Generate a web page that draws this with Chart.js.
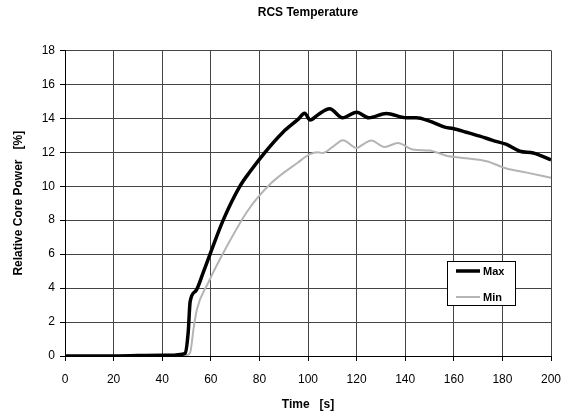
<!DOCTYPE html>
<html>
<head>
<meta charset="utf-8">
<script src="https://cdn.jsdelivr.net/npm/chart.js@4/dist/chart.umd.min.js"></script>
<style>
  html, body { margin: 0; padding: 0; background: #fff; }
  #wrap { width: 565px; height: 416px; }
</style>
</head>
<body>
<div id="wrap"><canvas id="rcsChart" width="565" height="416"></canvas></div>
<script>
// values: time [s] and relative core power [%]
const maxTime  = [0, 20, 40, 45, 48, 49.4, 50.7, 51.5, 53.9, 56.9, 59.7, 65.1, 72, 76.1, 82.3, 89.8, 96, 98.6, 100.9, 104, 108.9, 114.2, 120, 125, 132.2, 140.5, 144.6, 150, 156.3, 159.7, 165.2, 170.7, 176, 181.7, 187.2, 192.7, 200];
const maxPower = [0, 0, 0.05, 0.05, 0.1, 0.15, 1.4, 3.2, 3.85, 4.93, 6.0, 8.0, 10.0, 10.85, 12.0, 13.2, 13.95, 14.3, 13.9, 14.2, 14.56, 14.03, 14.36, 14.03, 14.28, 14.03, 14.03, 13.83, 13.48, 13.4, 13.18, 12.95, 12.7, 12.46, 12.06, 11.96, 11.55];

const minTime  = [0, 20, 40, 45, 50, 51.5, 52.9, 54.3, 59, 66.5, 75.4, 85, 95.9, 100.6, 104, 106, 110, 114.4, 119.9, 123, 126, 131.5, 137, 143.2, 150, 157, 165, 173.5, 181.7, 190, 200];
const minPower = [0, 0, 0.05, 0.05, 0.05, 0.2, 1.6, 2.76, 4.33, 6.43, 8.6, 10.2, 11.4, 11.87, 12.0, 11.96, 12.3, 12.71, 12.25, 12.5, 12.69, 12.31, 12.55, 12.16, 12.1, 11.8, 11.65, 11.47, 11.04, 10.8, 10.5];

const xTicks = [0, 20, 40, 60, 80, 100, 120, 140, 160, 180, 200];
const yTicks = [0, 2, 4, 6, 8, 10, 12, 14, 16, 18];

const toPoints = (xs, ys) => xs.map((x, i) => ({x: x, y: ys[i]}));

const fontFam = "'Liberation Sans', Arial, sans-serif";

// small boxed legend inside the plot, like the original
const boxLegend = {
  id: 'boxLegend',
  afterDraw(chart) {
    const ctx = chart.ctx;
    const x0 = 447, y0 = 261, w = 68, h = 44;
    ctx.save();
    ctx.fillStyle = '#fff';
    ctx.fillRect(x0, y0, w, h);
    ctx.strokeStyle = '#000';
    ctx.lineWidth = 1;
    ctx.strokeRect(x0 + 0.5, y0 + 0.5, w, h);
    ctx.font = "bold 11px " + fontFam;
    ctx.textBaseline = 'middle';
    chart.data.datasets.forEach((ds, i) => {
      const yy = y0 + 10 + i * 26;
      ctx.strokeStyle = ds.borderColor;
      ctx.lineWidth = ds.borderWidth;
      ctx.beginPath();
      ctx.moveTo(x0 + 9, yy);
      ctx.lineTo(x0 + 33, yy);
      ctx.stroke();
      ctx.fillStyle = '#000';
      ctx.fillText(ds.label, x0 + 36, yy + 1);
    });
    ctx.restore();
  }
};

new Chart(document.getElementById('rcsChart'), {
  type: 'scatter',
  data: {
    datasets: [
      {
        label: 'Max',
        data: toPoints(maxTime, maxPower),
        showLine: true,
        borderColor: '#000',
        borderWidth: 3.5,
        pointRadius: 0,
        cubicInterpolationMode: 'monotone'
      },
      {
        label: 'Min',
        data: toPoints(minTime, minPower),
        showLine: true,
        borderColor: '#b4b4b4',
        borderWidth: 2,
        pointRadius: 0,
        cubicInterpolationMode: 'monotone'
      }
    ]
  },
  options: {
    responsive: false,
    animation: false,
    layout: { padding: { top: 0, right: 14, left: 0, bottom: 0 } },
    plugins: {
      legend: { display: false },
      tooltip: { enabled: false },
      title: {
        display: true,
        fullSize: false,
        text: 'RCS Temperature',
        color: '#000',
        font: { family: fontFam, size: 12, weight: 'bold' },
        padding: { top: 5, bottom: 31 }
      }
    },
    scales: {
      x: {
        type: 'linear',
        min: 0,
        max: 200,
        afterBuildTicks: (s) => { s.ticks = xTicks.map(v => ({value: v})); },
        afterFit: (s) => { s.height = 60; s.paddingRight = 0; s.paddingLeft = 0; },
        ticks: { color: '#000', font: { family: fontFam, size: 12 }, padding: 11, maxRotation: 0 },
        grid: { color: '#444', lineWidth: 1, tickLength: 5, tickColor: '#000' },
        border: { color: '#000', width: 1 },
        title: {
          display: true,
          text: 'Time   [s]',
          color: '#000',
          font: { family: fontFam, size: 12, weight: 'bold' },
          padding: { top: 6 }
        }
      },
      y: {
        type: 'linear',
        min: 0,
        max: 18,
        afterBuildTicks: (s) => { s.ticks = yTicks.map(v => ({value: v})); },
        afterFit: (s) => { s.width = 65; },
        ticks: { color: '#000', font: { family: fontFam, size: 12 }, padding: 5 },
        grid: { color: '#444', lineWidth: 1, tickLength: 5, tickColor: '#000' },
        border: { color: '#000', width: 1 },
        title: {
          display: true,
          text: 'Relative Core Power   [%]',
          color: '#000',
          font: { family: fontFam, size: 12, weight: 'bold' },
          padding: { top: 11, bottom: 4 }
        }
      }
    }
  },
  plugins: [boxLegend]
});
</script>
</body>
</html>
